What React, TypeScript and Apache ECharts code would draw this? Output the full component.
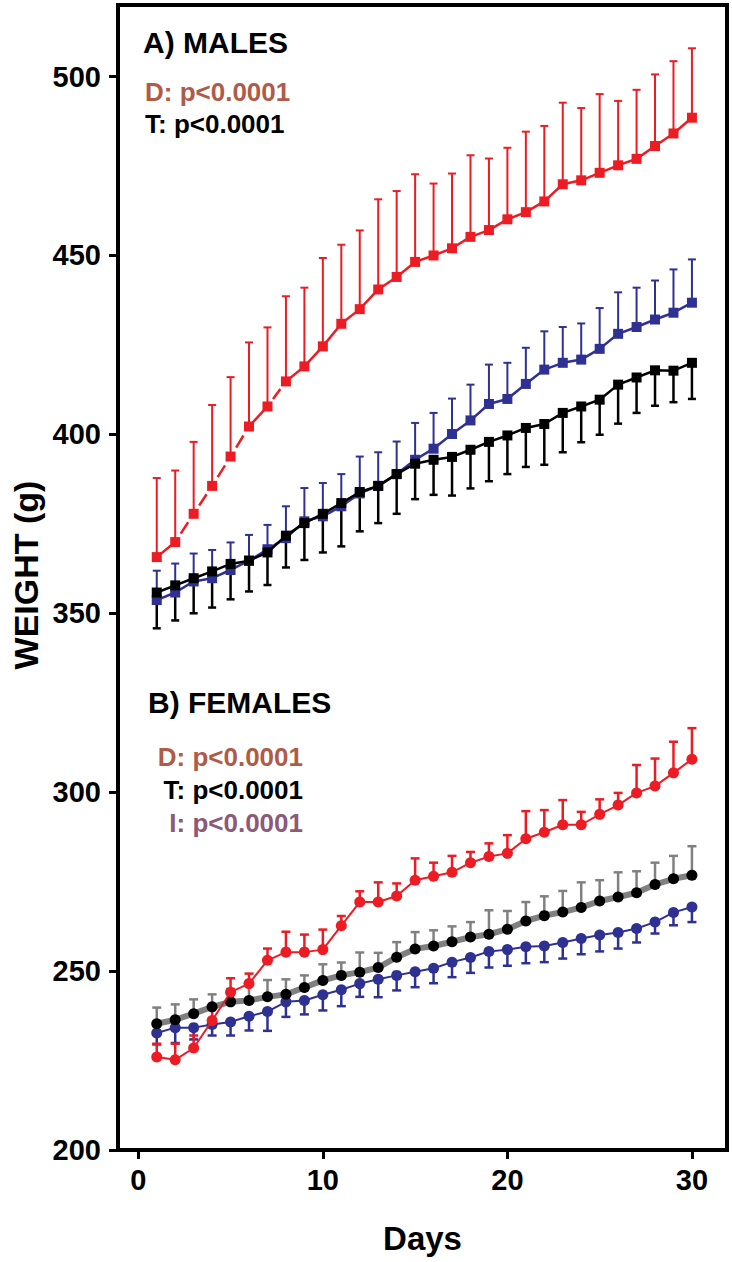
import React, { useEffect, useRef } from "react";
import * as echarts from "echarts";

const days = [1, 2, 3, 4, 5, 6, 7, 8, 9, 10, 11, 12, 13, 14, 15, 16, 17, 18, 19, 20, 21, 22, 23, 24, 25, 26, 27, 28, 29, 30];

// A) MALES
const maleRedMean = [365.7, 369.9, 377.8, 385.6, 393.8, 402.2, 407.8, 414.8, 419.0, 424.6, 430.9, 435.0, 440.5, 444.0, 448.2, 450.0, 452.0, 455.2, 457.1, 460.1, 462.1, 465.1, 469.9, 471.0, 473.1, 475.2, 477.0, 480.6, 484.1, 488.5];
const maleRedUpper = [387.8, 389.9, 397.9, 408.2, 416.0, 425.7, 429.9, 438.6, 441.0, 449.3, 453.0, 457.0, 465.7, 468.0, 472.7, 470.1, 472.9, 478.0, 477.1, 480.1, 484.6, 486.2, 492.7, 491.2, 495.1, 493.2, 496.3, 500.6, 504.3, 507.9];
const maleRedDashedFrom = [2, 3, 4, 5, 7];
const maleBlueMean = [353.7, 355.8, 358.9, 359.8, 362.1, 364.7, 367.9, 371.0, 375.7, 377.1, 379.9, 383.5, 385.6, 388.9, 392.9, 396.0, 400.1, 403.9, 408.5, 409.9, 414.1, 418.1, 420.0, 420.9, 423.9, 428.1, 430.0, 432.1, 434.0, 436.8];
const maleBlueUpper = [361.9, 363.9, 366.7, 367.7, 369.8, 371.9, 374.7, 379.9, 385.0, 386.4, 388.9, 393.8, 395.0, 398.0, 403.2, 406.0, 410.0, 413.9, 419.5, 420.0, 424.2, 428.8, 430.0, 431.0, 435.3, 439.7, 441.0, 443.0, 446.1, 448.9];
const maleBlackMean = [355.8, 357.8, 359.8, 361.7, 363.8, 364.7, 367.0, 371.7, 375.2, 377.8, 380.8, 383.9, 385.6, 388.9, 391.8, 392.9, 393.7, 395.7, 397.9, 399.7, 401.8, 402.9, 406.0, 407.8, 409.7, 413.9, 415.9, 417.9, 417.8, 420.0];
const maleBlackLower = [345.8, 348.0, 350.0, 351.6, 353.9, 356.1, 357.9, 362.8, 364.9, 367.0, 368.7, 372.9, 375.2, 377.8, 381.9, 383.1, 382.9, 384.9, 386.9, 388.9, 390.9, 391.5, 395.0, 397.8, 399.9, 403.0, 406.0, 408.0, 409.0, 409.9];

// B) FEMALES
const femaleRedMean = [226.0, 225.2, 228.5, 236.2, 244.1, 246.5, 253.0, 255.3, 255.3, 256.0, 262.7, 269.3, 269.3, 271.0, 275.4, 276.5, 277.6, 280.3, 282.0, 282.9, 287.0, 288.8, 290.9, 290.9, 293.8, 296.4, 299.8, 301.7, 305.4, 309.2];
const femaleRedUpper = [229.7, 229.7, 232.0, 240.0, 248.0, 249.3, 256.3, 261.0, 260.2, 261.6, 265.4, 272.3, 274.8, 274.5, 281.5, 280.3, 282.2, 283.3, 285.7, 288.0, 294.7, 295.0, 297.8, 294.5, 298.0, 299.8, 307.6, 309.4, 314.1, 317.9];
const femaleBlackMean = [235.3, 236.4, 238.1, 240.0, 241.4, 241.8, 242.8, 243.5, 245.4, 247.4, 248.8, 249.7, 251.0, 253.9, 256.2, 257.0, 258.2, 259.5, 260.3, 261.7, 264.0, 265.5, 266.5, 267.8, 269.6, 270.7, 271.9, 274.2, 275.8, 276.8];
const femaleBlackUpper = [239.8, 240.7, 242.1, 243.5, 245.0, 246.3, 247.5, 247.7, 248.8, 251.9, 252.4, 255.2, 255.1, 258.1, 260.9, 261.4, 262.5, 263.7, 267.0, 266.8, 269.3, 270.9, 272.4, 274.8, 275.4, 277.6, 277.9, 280.3, 282.2, 284.9];
const femaleBlueMean = [232.7, 234.2, 234.2, 235.1, 235.8, 237.4, 238.7, 241.4, 241.8, 243.4, 244.8, 246.5, 247.7, 248.8, 249.8, 250.8, 252.5, 253.8, 255.5, 256.0, 256.8, 257.0, 258.0, 259.1, 260.1, 260.8, 261.9, 263.7, 266.4, 267.9];
const femaleBlueLower = [229.5, 229.9, 230.9, 232.0, 232.0, 233.4, 233.3, 237.2, 237.9, 239.0, 240.2, 242.8, 242.7, 244.6, 245.5, 246.6, 248.3, 249.5, 251.0, 251.5, 252.2, 252.5, 253.5, 254.7, 255.5, 256.3, 258.0, 260.5, 262.8, 263.7];

const xTicks = [0, 10, 20, 30];
const yTicks = [200, 250, 300, 350, 400, 450, 500];

const RED = "#ec1c24";
const BLUE = "#2e3192";
const BLACK = "#000000";
const GRAY = "#808080";
const FONT = "'Liberation Sans', Arial, Helvetica, sans-serif";

function errorBars(mean: number[], bound: number[], color: string, width: number, cap: number, z: number) {
  return {
    type: "custom",
    z,
    silent: true,
    data: days.map((d, i) => [d, mean[i], bound[i]]),
    encode: { x: 0, y: [1, 2] },
    renderItem: (_p: any, api: any) => {
      const a = api.coord([api.value(0), api.value(1)]);
      const b = api.coord([api.value(0), api.value(2)]);
      return {
        type: "group",
        children: [
          { type: "line", shape: { x1: a[0], y1: a[1], x2: b[0], y2: b[1] }, style: { stroke: color, lineWidth: width } },
          { type: "line", shape: { x1: b[0] - cap / 2, y1: b[1], x2: b[0] + cap / 2, y2: b[1] }, style: { stroke: color, lineWidth: width } },
        ],
      };
    },
  };
}

function lineSeries(mean: number[], color: string, lineColor: string, width: number, symbol: string, size: number, z: number) {
  return {
    type: "line",
    z,
    silent: true,
    data: days.map((d, i) => [d, mean[i]]),
    symbol,
    symbolSize: size,
    showAllSymbol: true,
    lineStyle: { color: lineColor, width },
    itemStyle: { color, borderWidth: 0 },
  };
}

export default function App() {
  const ref = useRef<HTMLDivElement>(null);
  useEffect(() => {
    if (!ref.current) return;
    const chart = echarts.init(ref.current, undefined, { renderer: "svg" });

    const redSegments = days.slice(0, -1).map((d, i) => [d, maleRedMean[i], days[i + 1], maleRedMean[i + 1], maleRedDashedFrom.includes(d) ? 1 : 0]);

    const option: any = {
      animation: false,
      backgroundColor: "#ffffff",
      grid: { left: 118, right: 5, top: 5, bottom: 112, show: true, borderColor: "#000", borderWidth: 4, backgroundColor: "transparent" },
      xAxis: {
        type: "value",
        min: -1.1,
        max: 31.9,
        name: "Days",
        nameLocation: "middle",
        nameGap: 72,
        nameTextStyle: { fontFamily: FONT, fontWeight: "bold", fontSize: 33, color: "#000" },
        axisLine: { show: true, onZero: false, lineStyle: { color: "#000", width: 4 } },
        axisTick: { show: true, inside: false, length: 9, lineStyle: { color: "#000", width: 3 }, customValues: xTicks },
        axisLabel: { customValues: xTicks, fontFamily: FONT, fontWeight: "bold", fontSize: 29, color: "#000", margin: 15 },
        splitLine: { show: false },
      },
      yAxis: {
        type: "value",
        min: 200,
        max: 520,
        axisLine: { show: true, onZero: false, lineStyle: { color: "#000", width: 4 } },
        axisTick: { show: true, inside: false, length: 9, lineStyle: { color: "#000", width: 3 }, customValues: yTicks },
        axisLabel: { customValues: yTicks, fontFamily: FONT, fontWeight: "bold", fontSize: 29, color: "#000", margin: 17 },
        splitLine: { show: false },
      },
      graphic: [
        { type: "text", x: 26, y: 575, rotation: Math.PI / 2, style: { text: "WEIGHT (g)", fill: "#000", font: `bold 34px ${FONT}`, align: "center", verticalAlign: "middle" } },
        { type: "text", x: 143, y: 42, style: { text: "A) MALES", fill: "#000", font: `bold 30px ${FONT}`, align: "left", verticalAlign: "middle" } },
        { type: "text", x: 145, y: 92, style: { text: "D: p<0.0001", fill: "#b05b48", font: `bold 26px ${FONT}`, align: "left", verticalAlign: "middle" } },
        { type: "text", x: 145, y: 124, style: { text: "T: p<0.0001", fill: "#000", font: `bold 26px ${FONT}`, align: "left", verticalAlign: "middle" } },
        { type: "text", x: 148, y: 702, style: { text: "B) FEMALES", fill: "#000", font: `bold 30px ${FONT}`, align: "left", verticalAlign: "middle" } },
        { type: "text", x: 303, y: 757, style: { text: "D: p<0.0001", fill: "#b05b48", font: `bold 26px ${FONT}`, align: "right", verticalAlign: "middle" } },
        { type: "text", x: 303, y: 790, style: { text: "T: p<0.0001", fill: "#000", font: `bold 26px ${FONT}`, align: "right", verticalAlign: "middle" } },
        { type: "text", x: 303, y: 823, style: { text: "I: p<0.0001", fill: "#8c5a78", font: `bold 26px ${FONT}`, align: "right", verticalAlign: "middle" } },
      ],
      series: [
        // males
        errorBars(maleRedMean, maleRedUpper, RED, 2, 8, 2),
        errorBars(maleBlueMean, maleBlueUpper, BLUE, 2, 8, 2),
        errorBars(maleBlackMean, maleBlackLower, BLACK, 2.5, 8, 3),
        {
          type: "custom",
          z: 4,
          silent: true,
          data: redSegments,
          encode: { x: [0, 2], y: [1, 3] },
          renderItem: (_p: any, api: any) => {
            const a = api.coord([api.value(0), api.value(1)]);
            const b = api.coord([api.value(2), api.value(3)]);
            const dashed = api.value(4) === 1;
            const s = dashed ? 0.3 : 0;
            const e = dashed ? 0.7 : 1;
            return {
              type: "line",
              shape: { x1: a[0] + (b[0] - a[0]) * s, y1: a[1] + (b[1] - a[1]) * s, x2: a[0] + (b[0] - a[0]) * e, y2: a[1] + (b[1] - a[1]) * e },
              style: { stroke: RED, lineWidth: 2.5 },
            };
          },
        },
        { ...lineSeries(maleRedMean, RED, RED, 0, "rect", 10, 5), lineStyle: { width: 0, opacity: 0 } },
        lineSeries(maleBlueMean, BLUE, BLUE, 2.5, "rect", 10, 5),
        lineSeries(maleBlackMean, BLACK, BLACK, 2.5, "rect", 10, 6),
        // females
        errorBars(femaleBlackMean, femaleBlackUpper, GRAY, 2.5, 9, 2),
        errorBars(femaleBlueMean, femaleBlueLower, BLUE, 2.5, 9, 2),
        errorBars(femaleRedMean, femaleRedUpper, RED, 2.5, 9, 2),
        lineSeries(femaleBlueMean, BLUE, BLUE, 2, "circle", 11, 5),
        lineSeries(femaleBlackMean, BLACK, GRAY, 6, "circle", 11, 6),
        lineSeries(femaleRedMean, RED, RED, 2, "circle", 11, 7),
      ],
    };
    chart.setOption(option);
    return () => chart.dispose();
  }, []);

  return <div ref={ref} style={{ position: "fixed", left: 0, top: 0, width: 732, height: 1262, background: "#fff" }} />;
}
